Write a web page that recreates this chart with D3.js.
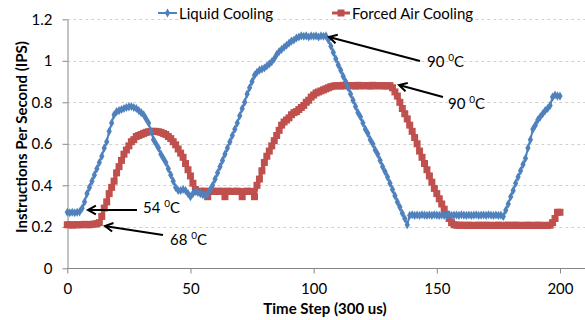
<!DOCTYPE html>
<html><head><meta charset="utf-8">
<script src="https://cdn.jsdelivr.net/npm/d3@7"></script>
<style>body{margin:0;background:#fff}svg{display:block;font-family:Lato,"Open Sans",sans-serif}</style>
</head><body>
<svg id="c" width="585" height="320"></svg>
<script>
const seriesNames = ["Liquid Cooling", "Forced Air Cooling"];
const xTicks = [0, 50, 100, 150, 200];
const yTicks = [0, 0.2, 0.4, 0.6, 0.8, 1, 1.2];
const yTickLabels = ["0", "0.2", "0.4", "0.6", "0.8", "1", "1.2"];
// Liquid Cooling, time steps 0..200
const liquid = [
0.27,0.268,0.27,0.268,0.27,0.272,0.29,0.32,0.36,0.39,
0.42,0.45,0.48,0.51,0.54,0.58,0.61,0.66,0.70,0.74,
0.755,0.76,0.765,0.77,0.775,0.778,0.78,0.775,0.77,0.76,
0.75,0.74,0.72,0.70,0.66,0.62,0.60,0.58,0.55,0.53,
0.51,0.48,0.45,0.42,0.39,0.375,0.375,0.38,0.375,0.36,
0.345,0.36,0.37,0.365,0.36,0.355,0.35,0.36,0.38,0.40,
0.43,0.46,0.49,0.52,0.55,0.58,0.61,0.64,0.67,0.70,
0.735,0.77,0.80,0.84,0.87,0.90,0.93,0.945,0.955,0.96,
0.965,0.975,0.985,0.995,1.01,1.03,1.045,1.055,1.065,1.075,
1.085,1.095,1.10,1.11,1.115,1.12,1.118,1.12,1.115,1.12,
1.118,1.12,1.115,1.12,1.118,1.12,1.10,1.07,1.04,1.01,
0.98,0.955,0.925,0.90,0.87,0.84,0.81,0.78,0.75,0.73,
0.70,0.67,0.65,0.62,0.60,0.57,0.55,0.52,0.49,0.465,
0.44,0.41,0.38,0.35,0.32,0.295,0.265,0.24,0.21,0.255,
0.258,0.255,0.257,0.255,0.258,0.256,0.255,0.257,0.255,0.258,
0.256,0.255,0.257,0.255,0.256,0.258,0.255,0.256,0.257,0.255,
0.258,0.256,0.255,0.257,0.255,0.256,0.258,0.255,0.256,0.257,
0.255,0.258,0.256,0.255,0.257,0.255,0.256,0.25,0.28,0.31,
0.345,0.375,0.41,0.44,0.47,0.50,0.53,0.58,0.62,0.67,
0.69,0.715,0.73,0.745,0.76,0.77,0.785,0.825,0.835,0.83,
0.83];
// Forced Air Cooling, time steps 0..200
const forced = [
0.21,0.21,0.208,0.21,0.21,0.21,0.21,0.212,0.21,0.21,
0.212,0.213,0.215,0.22,0.25,0.29,0.32,0.36,0.39,0.42,
0.46,0.49,0.52,0.55,0.57,0.59,0.61,0.62,0.635,0.64,
0.645,0.65,0.655,0.658,0.66,0.66,0.66,0.658,0.655,0.65,
0.645,0.635,0.625,0.61,0.595,0.575,0.555,0.535,0.505,0.475,
0.445,0.41,0.38,0.37,0.372,0.37,0.372,0.345,0.37,0.372,
0.37,0.371,0.372,0.37,0.345,0.372,0.37,0.371,0.37,0.372,
0.37,0.345,0.37,0.372,0.37,0.371,0.345,0.40,0.43,0.47,
0.51,0.54,0.565,0.59,0.615,0.64,0.665,0.69,0.705,0.715,
0.725,0.74,0.75,0.755,0.765,0.775,0.785,0.80,0.81,0.825,
0.835,0.845,0.85,0.855,0.86,0.865,0.87,0.875,0.878,0.88,
0.88,0.878,0.882,0.88,0.879,0.881,0.88,0.878,0.882,0.88,
0.879,0.881,0.88,0.878,0.882,0.88,0.879,0.881,0.88,0.878,
0.88,0.88,0.87,0.85,0.83,0.80,0.77,0.745,0.72,0.69,
0.66,0.63,0.60,0.565,0.535,0.505,0.475,0.445,0.415,0.385,
0.36,0.335,0.31,0.285,0.26,0.24,0.22,0.21,0.208,0.207,
0.208,0.207,0.206,0.208,0.207,0.206,0.207,0.208,0.206,0.207,
0.208,0.206,0.207,0.207,0.206,0.208,0.207,0.206,0.207,0.208,
0.206,0.207,0.208,0.206,0.207,0.207,0.206,0.208,0.207,0.206,
0.207,0.208,0.206,0.207,0.207,0.206,0.208,0.22,0.24,0.27,
0.27];
const annotations = [
  {label:"90", tx:427, ty:67},
  {label:"90", tx:448, ty:109},
  {label:"54", tx:143, ty:213},
  {label:"68", tx:170, ty:245}
];
const colors = ["#4F81BD", "#C0504D"];
const FS = 15;

const svg = d3.select("#c");
const x = d3.scaleLinear().domain([0, 210]).range([67.3, 584.6]);
const y = d3.scaleLinear().domain([0, 1.2]).range([268.3, 19.3]);

// gridlines
svg.append("g").selectAll("line").data(yTicks.slice(1)).join("line")
  .attr("x1", x(0)).attr("x2", 585).attr("y1", d => Math.round(y(d))+0.5).attr("y2", d => Math.round(y(d))+0.5)
  .attr("stroke", "#d0d0d0").attr("stroke-dasharray", "3,3").attr("stroke-width", 1);

// axes
const xAxis = svg.append("g").attr("transform", `translate(0,${Math.round(y(0))+0.5})`)
  .call(d3.axisBottom(x).tickValues(xTicks).tickSize(5).tickSizeOuter(0).tickPadding(10));
xAxis.select(".domain").attr("stroke", "#868686").attr("d", `M${x(0)},0H585`);
xAxis.selectAll(".tick line").attr("stroke", "#868686");
xAxis.selectAll("text").attr("font-size", FS).attr("fill", "#000").attr("font-family", "Lato");

const yAxis = svg.append("g").attr("transform", `translate(${Math.round(x(0))+0.5},0)`)
  .call(d3.axisLeft(y).tickValues(yTicks).tickFormat((d,i) => yTickLabels[i]).tickSize(5).tickSizeOuter(0).tickPadding(10));
yAxis.select(".domain").attr("stroke", "#868686");
yAxis.selectAll(".tick line").attr("stroke", "#868686");
yAxis.selectAll("text").attr("font-size", FS).attr("fill", "#000").attr("font-family", "Lato");

// axis titles
svg.append("text").attr("x", 325).attr("y", 314).attr("text-anchor", "middle")
  .attr("font-size", FS).attr("font-weight", "bold").text("Time Step (300 us)");
svg.append("text").attr("transform", "translate(27,137) rotate(-90)").attr("text-anchor", "middle")
  .attr("font-size", FS).attr("font-weight", "bold").text("Instructions Per Second (IPS)");

const line = d3.line().x((d,i) => x(i)).y(d => y(d));
// red series
svg.append("path").datum(forced).attr("d", line).attr("fill", "none").attr("stroke", colors[1]).attr("stroke-width", 4).attr("stroke-linejoin", "round");
svg.append("g").selectAll("path").data(forced).join("path")
  .attr("transform", (d,i) => `translate(${x(i)},${y(d)})`)
  .attr("d", d3.symbol(d3.symbolSquare, 49)).attr("fill", colors[1]);
// blue series
svg.append("path").datum(liquid).attr("d", line).attr("fill", "none").attr("stroke", colors[0]).attr("stroke-width", 2);
svg.append("g").selectAll("path").data(liquid).join("path")
  .attr("transform", (d,i) => `translate(${x(i)},${y(d)})`)
  .attr("d", d3.symbol(d3.symbolDiamond, 24)).attr("fill", colors[0]);

// legend
const leg = [{x0:158, x1:177, tx:179}, {x0:332, x1:350, tx:352}];
seriesNames.forEach((n, i) => {
  const g = svg.append("g");
  g.append("line").attr("x1", leg[i].x0).attr("x2", leg[i].x1).attr("y1", 13).attr("y2", 13)
    .attr("stroke", colors[i]).attr("stroke-width", i ? 3 : 2);
  g.append("path").attr("transform", `translate(${(leg[i].x0+leg[i].x1)/2},13)`)
    .attr("d", i ? d3.symbol(d3.symbolSquare, 49)() : d3.symbol(d3.symbolDiamond, 24)()).attr("fill", colors[i]);
  g.append("text").attr("x", leg[i].tx).attr("y", 18.5).attr("font-size", FS).text(n);
});

// arrows (line + open V head drawn manually)
const arrowEnds = [
  {sx:420, sy:61, ex:329, ey:37},
  {sx:443, sy:97, ex:399, ey:85},
  {sx:137, sy:210, ex:88, ey:210},
  {sx:163, sy:235, ex:105, ey:226}
];
annotations.forEach((a, i) => {
  const e = arrowEnds[i];
  const ang = Math.atan2(e.sy - e.ey, e.sx - e.ex);
  const L = 9, W = 0.5;
  svg.append("line").attr("x1", e.sx).attr("y1", e.sy).attr("x2", e.ex + Math.cos(ang)) .attr("y2", e.ey + Math.sin(ang))
    .attr("stroke", "#000").attr("stroke-width", 2);
  const p1 = [e.ex + L*Math.cos(ang+W), e.ey + L*Math.sin(ang+W)];
  const p2 = [e.ex + L*Math.cos(ang-W), e.ey + L*Math.sin(ang-W)];
  svg.append("path").attr("d", `M${p1}L${e.ex},${e.ey}L${p2}`).attr("fill", "none")
    .attr("stroke", "#000").attr("stroke-width", 2).attr("stroke-linejoin", "miter");
  const t = svg.append("text").attr("x", a.tx).attr("y", a.ty).attr("font-size", FS);
  t.append("tspan").text(a.label + " ");
  t.append("tspan").attr("font-size", 10).attr("dy", -6).text("0");
  t.append("tspan").attr("dy", 6).text("C");
});
</script>
</body></html>
